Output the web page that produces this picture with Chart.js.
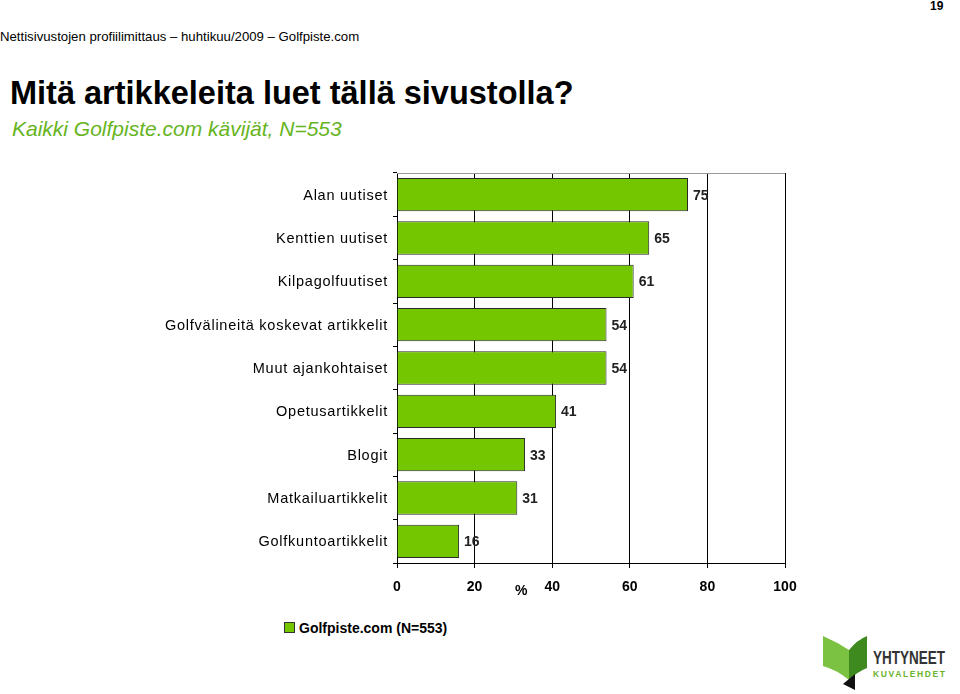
<!DOCTYPE html>
<html>
<head>
<meta charset="utf-8">
<script src="https://cdn.jsdelivr.net/npm/chart.js@4/dist/chart.umd.min.js"></script>
<style>
  body { margin: 0; background: #fff; font-family: "Liberation Sans", Arial, sans-serif; }
  #page { position: relative; width: 960px; height: 694px; overflow: hidden; }
  .abs { position: absolute; white-space: nowrap; }
  #chartBox { position: absolute; left: 0; top: 160px; width: 960px; height: 440px; }
</style>
</head>
<body>
<div id="page">
  <div class="abs" style="left:930px;top:-1px;font-size:12px;font-weight:bold;">19</div>
  <div class="abs" style="left:0;top:29px;font-size:13.2px;">Nettisivustojen profiilimittaus – huhtikuu/2009 – Golfpiste.com</div>
  <div class="abs" style="left:10px;top:75px;font-size:32.5px;font-weight:bold;">Mitä artikkeleita luet tällä sivustolla?</div>
  <div class="abs" style="left:12px;top:117px;font-size:21px;font-style:italic;color:#66b41e;">Kaikki Golfpiste.com kävijät, N=553</div>

  <div id="chartBox"><canvas id="myChart"></canvas></div>

  <div class="abs" style="left:515px;top:582px;font-size:14px;font-weight:bold;">%</div>

  <div class="abs" style="left:284px;top:620px;font-size:14px;font-weight:bold;">
    <span style="display:inline-block;width:9px;height:9px;background:#74c600;border:1px solid #333;margin-right:4px;"></span>Golfpiste.com (N=553)
  </div>

  <svg class="abs" style="left:815px;top:628px;" width="145" height="66">
    <path d="M8 8 Q22 14 34 22 L34 52 Q22 42 8 38 Z" fill="#7cc242"/>
    <path d="M34 22 Q42 12 52 8 L52 40 Q42 44 34 52 Z" fill="#3f8a1e"/>
    <path d="M28 56 L40 46 L40 62 Z" fill="#111"/>
    <text x="58" y="36" textLength="72" lengthAdjust="spacingAndGlyphs" font-family="Liberation Sans, Arial" font-weight="bold" font-size="18" fill="#333">YHTYNEET</text>
    <text x="58" y="49" textLength="72" lengthAdjust="spacing" font-family="Liberation Sans, Arial" font-weight="bold" font-size="8.5" fill="#6ab42c">KUVALEHDET</text>
  </svg>
</div>

<script>
const categories = [
    "Alan uutiset",
    "Kenttien uutiset",
    "Kilpagolfuutiset",
    "Golfvälineitä koskevat artikkelit",
    "Muut ajankohtaiset",
    "Opetusartikkelit",
    "Blogit",
    "Matkailuartikkelit",
    "Golfkuntoartikkelit",
];
const values = [75, 65, 61, 54, 54, 41, 33, 31, 16];
const xTicks = [0, 20, 40, 60, 80, 100];
const seriesName = "Golfpiste.com (N=553)";

// value labels after each bar, category labels with the wide spacing of the original
const textLabels = {
    id: "textLabels",
    afterDraw(chart) {
        const ctx = chart.ctx;
        const meta = chart.getDatasetMeta(0);
        const yScale = chart.scales.y;
        ctx.save();
        ctx.font = "bold 14px 'Liberation Sans', Arial";
        ctx.fillStyle = "#222";
        ctx.textBaseline = "middle";
        meta.data.forEach((bar, i) => {
            ctx.fillText(values[i], bar.x + 5, bar.y + 1);
        });
        ctx.font = "14.5px 'Liberation Sans', Arial";
        ctx.fillStyle = "#000";
        ctx.textAlign = "right";
        ctx.letterSpacing = "0.75px";
        categories.forEach((c, i) => {
            ctx.fillText(c, yScale.left + yScale.width - 9, yScale.getPixelForTick(i) + 1);
        });
        ctx.restore();
    },
};

// grey top line of the plot frame
const topLine = {
    id: "topLine",
    beforeDatasetsDraw(chart) {
        const a = chart.chartArea;
        const ctx = chart.ctx;
        ctx.save();
        ctx.strokeStyle = "#999";
        ctx.lineWidth = 1;
        ctx.beginPath();
        ctx.moveTo(a.left, a.top + 0.5);
        ctx.lineTo(a.right, a.top + 0.5);
        ctx.stroke();
        ctx.restore();
    },
};

const config = {
    type: "bar",
    data: {
        labels: categories,
        datasets: [
            {
                label: seriesName,
                data: values,
                backgroundColor: "#74c600",
                borderColor: "#2a2a2a",
                borderWidth: 1,
                barPercentage: 0.77,
                categoryPercentage: 1,
            },
        ],
    },
    options: {
        indexAxis: "y",
        responsive: true,
        maintainAspectRatio: false,
        animation: false,
        layout: { padding: { top: 13, right: 175, left: 0, bottom: 0 } },
        plugins: {
            legend: { display: false },
            tooltip: { enabled: false },
        },
        scales: {
            x: {
                min: 0,
                max: 100,
                afterBuildTicks: (scale) => {
                    scale.ticks = xTicks.map((v) => ({ value: v }));
                },
                grid: { color: "#000", lineWidth: 1, tickLength: 5 },
                border: { color: "#000" },
                ticks: {
                    color: "#000",
                    padding: 11,
                    font: { family: "'Liberation Sans', Arial", size: 14, weight: "bold" },
                },
                afterFit: (scale) => { scale.height = 37; },
            },
            y: {
                grid: { drawOnChartArea: false, color: "#000", tickLength: 4 },
                border: { color: "#000" },
                ticks: { display: false },
                afterFit: (scale) => { scale.width = 397; },
            },
        },
    },
    plugins: [textLabels, topLine],
};

var myChart = new Chart(document.getElementById("myChart"), config);
</script>
</body>
</html>
